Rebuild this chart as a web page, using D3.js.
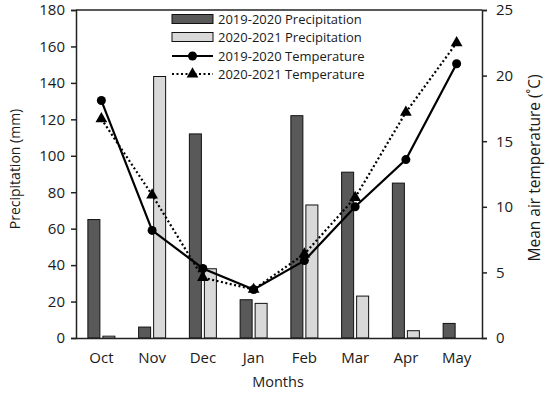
<!DOCTYPE html>
<html>
<head>
<meta charset="utf-8">
<script src="https://cdn.jsdelivr.net/npm/d3@7"></script>
<style>
body { margin: 0; background: #fff; }
text { font-family: "Open Sans", "Noto Sans", sans-serif; fill: #1a1a1a; }
</style>
</head>
<body>
<svg id="chart" width="550" height="395"></svg>
<script>
// data
var months = ["Oct", "Nov", "Dec", "Jan", "Feb", "Mar", "Apr", "May"];
var precip_1920 = [65, 6, 112, 21, 122, 91, 85, 8];
var precip_2021 = [1, 143.5, 38, 19, 73, 23, 4, 0];
var temp_1920 = [18.1, 8.2, 5.3, 3.7, 5.9, 10.0, 13.6, 20.9];
var temp_2021 = [16.7, 10.9, 4.6, 3.7, 6.4, 10.7, 17.2, 22.5];
var left_ticks = [0, 20, 40, 60, 80, 100, 120, 140, 160, 180];
var right_ticks = [0, 5, 10, 15, 20, 25];

var svg = d3.select("#chart");
var plot_left = 76, plot_right = 482, plot_top = 10, plot_bottom = 338;

var xScale = d3.scaleBand().domain(months).range([plot_left, plot_right]);
var yScale = d3.scaleLinear().domain([0, 180]).range([plot_bottom, plot_top]);
var y2Scale = d3.scaleLinear().domain([0, 25]).range([plot_bottom, plot_top]);

function xMid(i) { return xScale(months[i]) + xScale.bandwidth() / 2; }

// plot frame top line
svg.append("line")
    .attr("x1", plot_left).attr("x2", plot_right)
    .attr("y1", plot_top).attr("y2", plot_top)
    .attr("stroke", "#222").attr("stroke-width", 1.5);

// bars
var barW = 12;
svg.append("g").selectAll("rect")
    .data(precip_1920)
    .enter().append("rect")
    .attr("x", function(d, i) { return xMid(i) - 13.5; })
    .attr("y", function(d) { return yScale(d); })
    .attr("width", barW)
    .attr("height", function(d) { return plot_bottom - yScale(d); })
    .attr("fill", "#595959")
    .attr("stroke", "#111").attr("stroke-width", 1);

svg.append("g").selectAll("rect")
    .data(precip_2021)
    .enter().append("rect")
    .attr("x", function(d, i) { return xMid(i) + 1.5; })
    .attr("y", function(d) { return yScale(d); })
    .attr("width", barW)
    .attr("height", function(d) { return plot_bottom - yScale(d); })
    .attr("fill", "#d9d9d9")
    .attr("stroke", "#111").attr("stroke-width", 1)
    .style("display", function(d) { return d > 0 ? null : "none"; });

// axes
var yAxis = d3.axisLeft(yScale).tickValues(left_ticks).tickSize(5).tickPadding(6);
var y2Axis = d3.axisRight(y2Scale).tickValues(right_ticks).tickSize(5).tickPadding(9);

var gy = svg.append("g").attr("transform", "translate(" + plot_left + ",0)").call(yAxis);
var gy2 = svg.append("g").attr("transform", "translate(" + plot_right + ",0)").call(y2Axis);
[gy, gy2].forEach(function(g) {
    g.selectAll("path, line").attr("stroke", "#222").attr("stroke-width", 1.5);
    g.selectAll("text").style("font-size", "15px").style("font-family", "'Open Sans', sans-serif").attr("fill", "#1a1a1a");
});

// x axis (line only, labels below)
var xAxis = d3.axisBottom(xScale).tickSize(0).tickPadding(14);
var gx = svg.append("g").attr("transform", "translate(0," + plot_bottom + ")").call(xAxis);
gx.select(".domain").attr("stroke", "#222").attr("stroke-width", 1.5);
gx.selectAll("text").style("font-size", "15px").style("font-family", "'Open Sans', sans-serif").attr("fill", "#1a1a1a");

// lines
var line = d3.line()
    .x(function(d, i) { return xMid(i); })
    .y(function(d) { return y2Scale(d); });

svg.append("path").datum(temp_2021)
    .attr("d", line).attr("fill", "none")
    .attr("stroke", "#000").attr("stroke-width", 2.2)
    .attr("stroke-dasharray", "2,2.5");

svg.append("path").datum(temp_1920)
    .attr("d", line).attr("fill", "none")
    .attr("stroke", "#000").attr("stroke-width", 2.2);

var tri = d3.symbol().type(d3.symbolTriangle).size(60);
svg.append("g").selectAll("path")
    .data(temp_2021)
    .enter().append("path")
    .attr("d", tri)
    .attr("transform", function(d, i) { return "translate(" + xMid(i) + "," + y2Scale(d) + ")"; })
    .attr("fill", "#000");

svg.append("g").selectAll("circle")
    .data(temp_1920)
    .enter().append("circle")
    .attr("cx", function(d, i) { return xMid(i); })
    .attr("cy", function(d) { return y2Scale(d); })
    .attr("r", 4.5)
    .attr("fill", "#000");

// legend
var legend = svg.append("g").attr("transform", "translate(172,0)");
var legendItems = ["2019-2020 Precipitation", "2020-2021 Precipitation", "2019-2020 Temperature", "2020-2021 Temperature"];
var legendY = [19, 37, 56, 74];

legend.append("rect").attr("x", 0).attr("y", legendY[0] - 4.5).attr("width", 41).attr("height", 9)
    .attr("fill", "#595959").attr("stroke", "#111");
legend.append("rect").attr("x", 0).attr("y", legendY[1] - 4.5).attr("width", 41).attr("height", 9)
    .attr("fill", "#d9d9d9").attr("stroke", "#111");
legend.append("line").attr("x1", 0).attr("x2", 41).attr("y1", legendY[2]).attr("y2", legendY[2])
    .attr("stroke", "#000").attr("stroke-width", 2.2);
legend.append("circle").attr("cx", 20.5).attr("cy", legendY[2]).attr("r", 4.5).attr("fill", "#000");
legend.append("line").attr("x1", 0).attr("x2", 41).attr("y1", legendY[3]).attr("y2", legendY[3])
    .attr("stroke", "#000").attr("stroke-width", 2.2).attr("stroke-dasharray", "2,2.5");
legend.append("path").attr("d", tri).attr("transform", "translate(20.5," + legendY[3] + ")").attr("fill", "#000");

legend.selectAll("text.lg")
    .data(legendItems)
    .enter().append("text")
    .attr("class", "lg")
    .attr("x", 46)
    .attr("y", function(d, i) { return legendY[i] + 4.5; })
    .attr("font-size", "13px")
    .text(function(d) { return d; });

// axis titles
svg.append("text")
    .attr("transform", "translate(20,169) rotate(-90)")
    .attr("text-anchor", "middle")
    .attr("font-size", "14px")
    .text("Precipitation (mm)");

svg.append("text")
    .attr("transform", "translate(540,168) rotate(-90)")
    .attr("text-anchor", "middle")
    .attr("font-size", "15.5px")
    .text("Mean air temperature (\u02DAC)");

svg.append("text")
    .attr("x", 278)
    .attr("y", 387)
    .attr("text-anchor", "middle")
    .attr("font-size", "14.5px")
    .text("Months");
</script>
</body>
</html>
